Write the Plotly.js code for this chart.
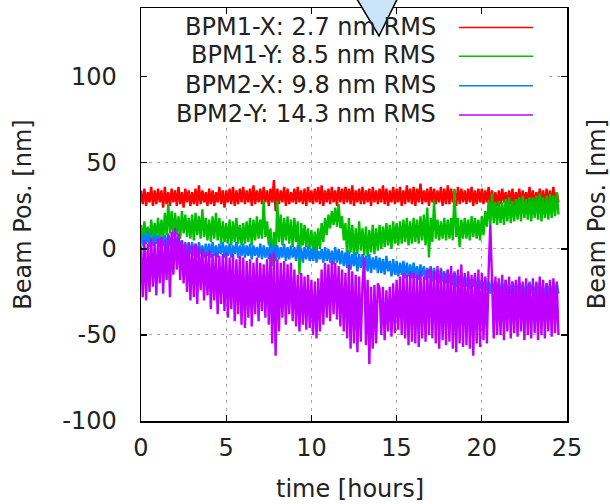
<!DOCTYPE html>
<html><head><meta charset="utf-8">
<script src="https://cdn.plot.ly/plotly-3.0.1.min.js"></script>
<style>html,body{margin:0;padding:0;background:#fff}#chart{width:610px;height:504px}</style>
</head><body><div id="chart"></div>
<script>
// time samples [hours]
const hours = [
0,0.1,0.2,0.3,0.4,0.5,0.6,0.7,0.8,0.9,
1,1.1,1.2,1.3,1.4,1.5,1.6,1.7,1.8,1.9,
2,2.1,2.2,2.3,2.4,2.5,2.6,2.7,2.8,2.9,
3,3.1,3.2,3.3,3.4,3.5,3.6,3.7,3.8,3.9,
4,4.1,4.2,4.3,4.4,4.5,4.6,4.7,4.8,4.9,
5,5.1,5.2,5.3,5.4,5.5,5.6,5.7,5.8,5.9,
6,6.1,6.2,6.3,6.4,6.5,6.6,6.7,6.8,6.9,
7,7.1,7.2,7.3,7.4,7.5,7.6,7.7,7.8,7.9,
8,8.1,8.2,8.3,8.4,8.5,8.6,8.7,8.8,8.9,
9,9.1,9.2,9.3,9.4,9.5,9.6,9.7,9.8,9.9,
10,10.1,10.2,10.3,10.4,10.5,10.6,10.7,10.8,10.9,
11,11.1,11.2,11.3,11.4,11.5,11.6,11.7,11.8,11.9,
12,12.1,12.2,12.3,12.4,12.5,12.6,12.7,12.8,12.9,
13,13.1,13.2,13.3,13.4,13.5,13.6,13.7,13.8,13.9,
14,14.1,14.2,14.3,14.4,14.5,14.6,14.7,14.8,14.9,
15,15.1,15.2,15.3,15.4,15.5,15.6,15.7,15.8,15.9,
16,16.1,16.2,16.3,16.4,16.5,16.6,16.7,16.8,16.9,
17,17.1,17.2,17.3,17.4,17.5,17.6,17.7,17.8,17.9,
18,18.1,18.2,18.3,18.4,18.5,18.6,18.7,18.8,18.9,
19,19.1,19.2,19.3,19.4,19.5,19.6,19.7,19.8,19.9,
20,20.1,20.2,20.3,20.4,20.5,20.6,20.7,20.8,20.9,
21,21.1,21.2,21.3,21.4,21.5,21.6,21.7,21.8,21.9,
22,22.1,22.2,22.3,22.4,22.5,22.6,22.7,22.8,22.9,
23,23.1,23.2,23.3,23.4,23.5,23.6,23.7,23.8,23.9,
24,24.1,24.2,24.3,24.4,24.5];

const seriesNames = ['BPM1-X', 'BPM1-Y', 'BPM2-X', 'BPM2-Y'];
const rmsValues = ['2.7', '8.5', '9.8', '14.3'];

// beam position [nm]
const bpm1x = [
34,26,35,25,33,27,36,25,34,26,
35,27,34,24,36,26,33,25,35,27,
34,25,36,26,33,24,35,27,34,25,
33,26,35,25,37,26,34,27,33,25,
35,26,34,25,33,27,36,26,34,24,
34,27,35,26,36,25,34,26,35,27,
36,26,34,27,35,25,37,26,34,27,
35,26,36,27,34,25,35,27,40,22,
35,26,34,27,36,25,35,26,33,27,
35,26,36,27,34,26,35,25,36,27,
34,26,35,27,36,26,37,25,34,27,
35,26,36,27,34,25,36,27,35,26,
36,27,35,26,37,25,34,27,35,26,
36,26,34,27,35,25,36,27,34,26,
35,27,37,26,35,25,34,27,36,26,
35,27,36,25,34,26,37,27,35,26,
36,25,35,27,38,26,34,27,35,25,
36,27,35,26,34,27,36,25,35,26,
37,26,35,27,34,25,36,26,35,27,
34,26,35,27,36,25,34,26,35,27,
35,26,34,27,36,25,34,26,33,25,
34,26,35,27,33,25,34,26,35,24,
33,26,35,25,34,27,33,25,36,26,
34,25,33,27,35,26,34,24,35,26,
34,25,36,26,33,27];

const bpm1y = [
14,4,16,6,13,3,17,5,15,6,
18,6,17,5,21,8,26,9,22,7,
21,8,19,6,22,9,20,7,18,6,
20,5,21,8,19,6,23,7,18,5,
17,4,19,6,21,5,18,3,16,4,
15,3,17,2,16,4,18,3,14,2,
15,3,16,4,18,2,17,5,19,6,
17,6,28,7,16,2,12,-10,10,-6,
28,4,20,2,18,5,19,3,17,1,
18,4,16,-15,15,2,14,1,12,0,
11,-1,10,-2,12,0,15,4,18,8,
20,12,22,14,24,13,26,12,19,5,
15,-4,18,-2,14,-6,12,-3,16,-1,
12,-4,13,-5,11,-2,14,-3,12,-1,
14,0,13,1,15,2,14,0,16,3,
15,2,16,3,17,4,18,2,16,3,
18,4,17,3,19,5,20,2,24,-5,
18,4,28,6,17,5,16,6,18,5,
17,6,18,5,35,7,18,1,17,6,
18,6,17,5,19,7,18,6,17,5,
19,8,22,13,28,14,32,15,27,14,
28,15,27,14,29,16,30,15,28,16,
29,17,30,16,31,18,29,17,30,16,
30,18,31,17,32,16,30,18,31,17,
32,18,31,19,33,20];

const bpm2x = [
9,2,8,3,10,1,7,2,9,3,
8,1,7,2,8,0,9,2,7,1,
8,1,7,0,5,-4,4,-5,3,-3,
4,-4,3,-5,4,-3,2,-5,3,-4,
3,-5,4,-4,2,-5,3,-3,4,-5,
2,-4,3,-5,2,-3,4,-5,2,-4,
3,-5,2,-4,3,-6,2,-4,1,-5,
3,-6,2,-5,1,-6,4,-5,2,-7,
2,-6,1,-5,3,-7,1,-6,2,-5,
1,-7,2,-6,0,-8,1,-6,2,-7,
0,-7,1,-8,-1,-6,0,-8,1,-7,
0,-8,-1,-9,1,-8,0,-9,-1,-10,
-2,-11,-1,-12,-3,-10,-2,-13,-3,-11,
-3,-12,-4,-13,-3,-14,-5,-12,-4,-14,
-5,-14,-6,-15,-4,-13,-7,-16,-6,-15,
-7,-16,-8,-15,-7,-17,-8,-16,-9,-17,
-8,-17,-10,-18,-9,-16,-10,-18,-11,-17,
-10,-19,-11,-18,-12,-20,-11,-19,-13,-20,
-12,-20,-14,-21,-13,-22,-15,-21,-14,-22,
-16,-22,-15,-23,-17,-22,-16,-24,-18,-23,
-18,-25,-17,-24,-19,-26,-18,-25,-19,-26,
-19,-27,-20,-26,-18,-27,-21,-26,-19,-28,
-20,-27,-19,-26,-21,-28,-20,-27,-19,-26,
-21,-28,-20,-27,-19,-26,-22,-28,-20,-27,
-21,-28,-19,-27,-20,-26];

const bpm2y = [
2,-28,5,-30,3,-25,6,-22,4,-27,
6,-20,7,-26,5,-18,8,-28,10,-15,
12,-12,9,-18,5,-20,3,-25,4,-30,
2,-28,3,-32,1,-24,0,-30,-2,-27,
-1,-35,-3,-30,-2,-38,-4,-32,-3,-36,
-2,-40,-5,-35,-3,-42,-6,-38,-4,-44,
-5,-46,-7,-40,-6,-45,-8,-38,-5,-42,
-8,-36,-9,-40,-6,-44,-3,-55,-2,-62,
-6,-48,-8,-40,-7,-44,-9,-38,-8,-42,
-12,-45,-15,-48,-14,-44,-16,-47,-15,-46,
-18,-50,-19,-52,-17,-48,-12,-44,-8,-40,
-9,-42,-7,-38,-8,-41,-10,-45,-12,-48,
-14,-52,-9,-58,-13,-55,-15,-60,-16,-54,
-20,-5,-56,-18,-67,-22,-58,-21,-55,-20,
-23,-50,-22,-53,-24,-48,-22,-51,-20,-49,
-18,-47,-16,-50,-14,-52,-15,-56,-13,-54,
-14,-55,-15,-57,-13,-52,-16,-54,-12,-50,
-11,-52,-13,-55,-10,-58,-12,-53,-14,-56,
-12,-54,-10,-58,-14,-60,-12,-55,-9,-57,
-14,-56,-13,-58,-15,-62,-14,-55,-12,-57,
-14,-53,-16,-55,-13,14,-18,-52,-16,-50,
-17,-50,-15,-53,-18,-48,-16,-52,-19,-49,
-18,-51,-16,-48,-19,-53,-17,-50,-20,-52,
-17,-49,-19,-53,-16,-50,-18,-52,-20,-48,
-18,-51,-17,-49,-19,-50];

const xTicks = [0, 5, 10, 15, 20, 25];
const yTicks = [-100, -50, 0, 50, 100];

const seriesValues = [bpm1x, bpm1y, bpm2x, bpm2y];
const colors = ['#ff0000', '#00c000', '#0080ff', '#c000ff'];
const FONT = 'DejaVu Sans, Liberation Sans, sans-serif';
const TXT = '#222222';

const traces = seriesValues.map((vals, i) => ({
  type: 'scatter', mode: 'lines',
  x: hours, y: vals,
  name: seriesNames[i] + ': ' + rmsValues[i] + ' nm RMS',
  line: {color: colors[i], width: 2.4},
  showlegend: false, hoverinfo: 'skip'
}));

// custom gnuplot-style key (text right-aligned, sample line on the right)
const keyRowsY = [0.955, 0.885, 0.814, 0.743];
const annotations = seriesNames.map((n, i) => ({
  xref: 'paper', yref: 'paper', x: 0.697, y: keyRowsY[i],
  xanchor: 'right', yanchor: 'middle', showarrow: false,
  text: n + ': ' + rmsValues[i] + ' nm RMS',
  font: {family: FONT, size: 24, color: TXT}
}));
annotations.push(
  {xref: 'paper', yref: 'paper', x: -0.279, y: 0.50, textangle: -90, showarrow: false,
   xanchor: 'center', yanchor: 'middle', text: 'Beam Pos. [nm]', font: {family: FONT, size: 24, color: TXT}},
  {xref: 'paper', yref: 'paper', x: 1.070, y: 0.50, textangle: -90, showarrow: false,
   xanchor: 'center', yanchor: 'middle', text: 'Beam Pos. [nm]', font: {family: FONT, size: 24, color: TXT}},
  {xref: 'paper', yref: 'paper', x: 0.4906, y: -0.1635, showarrow: false,
   xanchor: 'center', yanchor: 'middle', text: 'time [hours]', font: {family: FONT, size: 24, color: TXT}}
);

const shapes = [
  {type: 'rect', xref: 'paper', yref: 'paper', x0: 0.017, x1: 0.951, y0: 0.712, y1: 0.982,
   fillcolor: '#ffffff', line: {width: 0}, layer: 'above'}
];
seriesNames.forEach((n, i) => {
  shapes.push({type: 'line', xref: 'paper', yref: 'paper', x0: 0.7465, x1: 0.9202,
    y0: keyRowsY[i] - 0.002, y1: keyRowsY[i] - 0.002, line: {color: colors[i], width: 1.5}, layer: 'above'});
});
shapes.push({type: 'path', xref: 'paper', yref: 'paper',
  path: 'M 0.4789 1.07 L 0.6244 1.07 L 0.5587 0.9322 Z',
  fillcolor: '#cce4f7', line: {color: '#000000', width: 1.5}, layer: 'above'});

const axisCommon = {
  showline: true, linecolor: '#000000', linewidth: 1.5, mirror: 'ticks',
  ticks: 'inside', ticklen: 6, tickcolor: '#000000', tickwidth: 1.2,
  showgrid: true, gridcolor: '#a8a8a8', gridwidth: 1, griddash: '3px,5px',
  zeroline: false, tickfont: {family: FONT, size: 24, color: TXT}
};

const layout = {
  width: 610, height: 504,
  margin: {l: 141, r: 43, t: 8, b: 83, pad: 0},
  paper_bgcolor: '#ffffff', plot_bgcolor: '#ffffff',
  showlegend: false,
  xaxis: Object.assign({}, axisCommon, {range: [0, 25], tickvals: xTicks, ticktext: xTicks.map(String), ticklabelstandoff: 5}),
  yaxis: Object.assign({}, axisCommon, {range: [-100, 140], tickvals: yTicks, ticktext: yTicks.map(String), ticklabelstandoff: 18}),
  annotations: annotations,
  shapes: shapes
};

Plotly.newPlot('chart', traces, layout, {displayModeBar: false, staticPlot: true});
</script></body></html>
